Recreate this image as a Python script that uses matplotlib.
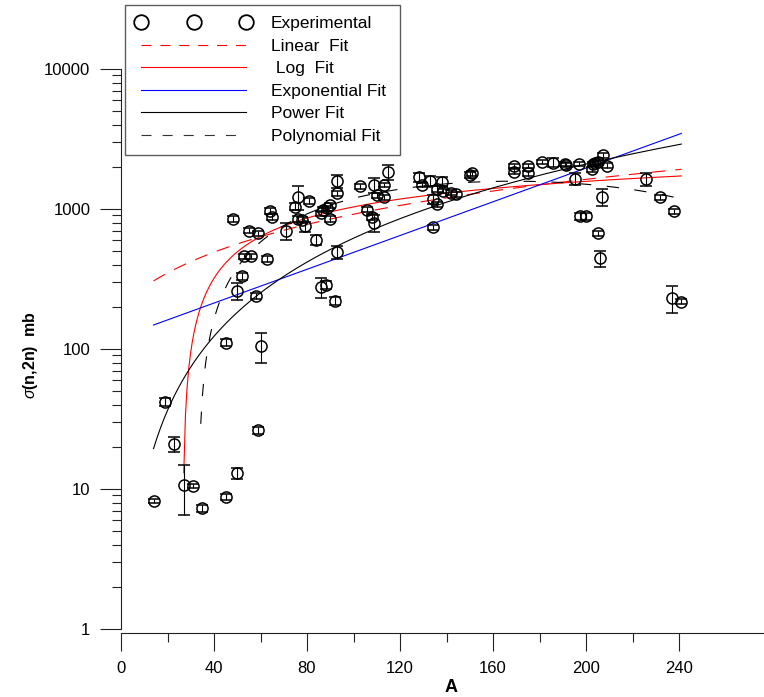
import matplotlib
matplotlib.use('Agg')
import matplotlib.pyplot as plt
from matplotlib.lines import Line2D
from matplotlib.ticker import FixedLocator, NullFormatter, FixedFormatter
import numpy as np

plt.rcParams['font.family'] = ['Liberation Sans', 'DejaVu Sans']
plt.rcParams['mathtext.fontset'] = 'custom'
plt.rcParams['mathtext.it'] = 'Liberation Sans:italic'
plt.rcParams['mathtext.rm'] = 'Liberation Sans'

# experimental (n,2n) cross sections
mass_number = [14, 19, 23, 27, 31, 35, 45, 45, 48, 50, 50, 52, 53, 55, 56, 58, 59, 59, 60,
               63, 64, 65, 71, 75, 76, 76, 78, 79, 81, 84, 86, 86, 87, 88, 88.5, 90, 90,
               92, 93, 93, 93, 103, 106, 108, 109, 109, 110, 113, 113, 115, 128, 129.4,
               133, 134, 134, 136, 136, 138, 138.7, 142, 144, 150, 151, 169, 169, 175,
               175, 181, 186, 191, 191.5, 195.3, 197, 197.5, 200, 202.5, 203, 204, 205,
               205, 206, 207, 207.5, 209, 226, 232, 237, 238, 241]
sigma_mb = [8.2, 42, 21, 10.7, 10.5, 7.3, 8.8, 111, 850, 13, 260, 330, 460, 700, 460, 240,
            670, 26.4, 105, 440, 970, 880, 700, 1040, 1220, 850, 830, 750, 1140, 600, 930,
            275, 985, 287, 1010, 1060, 850, 220, 1590, 1295, 490, 1450, 985, 880, 1490,
            790, 1250, 1480, 1210, 1830, 1690, 1480, 1590, 1170, 740, 1390, 1080, 1570,
            1350, 1310, 1270, 1750, 1800, 2030, 1850, 2030, 1800, 2160, 2145, 2095, 2060,
            1640, 2095, 890, 890, 1920, 2095, 2130, 2160, 670, 445, 1220, 2420, 2040, 1630,
            1210, 230, 960, 218]
sigma_err = [0.3, 3, 2.5, 4.2, 0.4, 0.4, 0.4, 6, 40, 1.2, 35, 20, 20, 30, 20, 12,
             25, 1.5, 25, 20, 50, 40, 100, 60, 230, 40, 40, 60, 50, 50, 40,
             45, 40, 20, 40, 40, 40, 15, 170, 60, 50, 50, 40, 40, 180,
             110, 60, 50, 50, 220, 120, 50, 130, 90, 30, 60, 50, 110,
             50, 50, 50, 80, 80, 80, 70, 80, 70, 80, 150, 80, 80,
             160, 80, 50, 50, 80, 80, 80, 80, 30, 60, 170, 100, 80, 180,
             50, 50, 40, 10]

# fit curves: coefficients and A range
linear_fit = (207.0, 7.11)                 # a + b*A
log_fit = (-2560.0, 780.7)                 # a + b*ln(A)
exp_fit = (122.2, 0.01388)                 # a*exp(b*A)
power_fit = (0.1868, 1.76)                 # a*A**b
poly_fit = [4.966e-5, -0.104495, 30.98886, -912.777]   # cubic in A
fit_start = {'linear': 14, 'log': 27, 'exp': 14, 'power': 14, 'poly': 34.3}
fit_end = 241

y_ticks = [1, 10, 100, 1000, 10000]
y_ticklabels = ['1', '10', '100', '1000', '10000']
x_ticks = [0, 40, 80, 120, 160, 200, 240]

W, H = 764, 697
fig = plt.figure(figsize=(W / 100, H / 100), dpi=100)
ax = fig.add_axes([121 / W, (H - 629) / H, (W - 121) / W, (629 - 69) / H])
ax.patch.set_alpha(0)


def arange_fit(key):
    return np.linspace(fit_start[key], fit_end, 300)


A = arange_fit('linear')
ax.plot(A, linear_fit[0] + linear_fit[1] * A, color='red', lw=0.8, dashes=(12, 9))
A = arange_fit('log')
ax.plot(A, log_fit[0] + log_fit[1] * np.log(A), color='red', lw=0.8)
A = arange_fit('exp')
ax.plot(A, exp_fit[0] * np.exp(exp_fit[1] * A), color='blue', lw=0.8)
A = arange_fit('power')
ax.plot(A, power_fit[0] * A ** power_fit[1], color='black', lw=0.8)
A = arange_fit('poly')
ax.plot(A, np.polyval(poly_fit, A), color='black', lw=0.8, dashes=(11, 14))

ax.errorbar(mass_number, sigma_mb, yerr=sigma_err, fmt='o', mfc='none', mec='black',
            ms=8, mew=1.1, ecolor='black', elinewidth=0.8, capsize=4.3, capthick=0.8)

ax.set_yscale('log')
ax.set_xlim(0, (W - 121) / 2.325)
ax.set_ylim(1, 10000)

ax.yaxis.set_major_locator(FixedLocator(y_ticks))
ax.yaxis.set_major_formatter(FixedFormatter(y_ticklabels))
minor_y = [m * d for d in y_ticks[:-1] for m in range(2, 10)]
ax.yaxis.set_minor_locator(FixedLocator(minor_y))
ax.yaxis.set_minor_formatter(NullFormatter())
ax.xaxis.set_major_locator(FixedLocator(x_ticks))
ax.xaxis.set_minor_locator(FixedLocator([20, 60, 100, 140, 180, 220]))

for side in ['top', 'right']:
    ax.spines[side].set_visible(False)
ax.spines['bottom'].set_position(('outward', 3))
for side in ['left', 'bottom']:
    ax.spines[side].set_linewidth(0.8)
    ax.spines[side].set_color('#222222')

ax.tick_params(axis='y', which='major', direction='out', length=15, width=0.8,
               color='#222222', labelsize=12, pad=7)
ax.tick_params(axis='y', which='minor', direction='out', length=6.5, width=0.8,
               color='#222222')
ax.tick_params(axis='x', which='major', direction='out', length=13, width=0.8,
               color='#222222', labelsize=12, pad=7)
ax.tick_params(axis='x', which='minor', direction='out', length=6.5, width=0.8,
               color='#222222')

fig.text(451 / W, 1 - 688 / H, 'A', fontsize=13, fontweight='bold', ha='center', va='center')
fig.text(31 / W, 1 - 355 / H, r'$\sigma$(n,2n)  mb', fontsize=11.5, fontweight='bold',
         rotation=90, ha='center', va='center')

handles = [
    Line2D([], [], ls='none', marker='o', ms=10.5, mfc='none', mec='black', mew=1.3),
    Line2D([], [], color='red', lw=0.8, dashes=(9, 8)),
    Line2D([], [], color='red', lw=0.8),
    Line2D([], [], color='blue', lw=0.8),
    Line2D([], [], color='black', lw=0.8),
    Line2D([], [], color='#333333', lw=0.8, dashes=(9, 10)),
]
labels = ['Experimental', 'Linear  Fit', ' Log  Fit', 'Exponential Fit', 'Power Fit',
          'Polynomial Fit']
leg = fig.legend(handles, labels, loc='upper left', numpoints=3, fontsize=12.5,
                 bbox_to_anchor=(125 / W, 1 - 5 / H, 275 / W, 0.0),
                 mode='expand', borderaxespad=0, borderpad=0.65, labelspacing=0.42,
                 handlelength=6.6, handletextpad=1.15, fancybox=False,
                 frameon=True, facecolor='none', edgecolor='#333333')
leg.get_frame().set_linewidth(1.0)

fig.savefig('out.png', dpi=100)
